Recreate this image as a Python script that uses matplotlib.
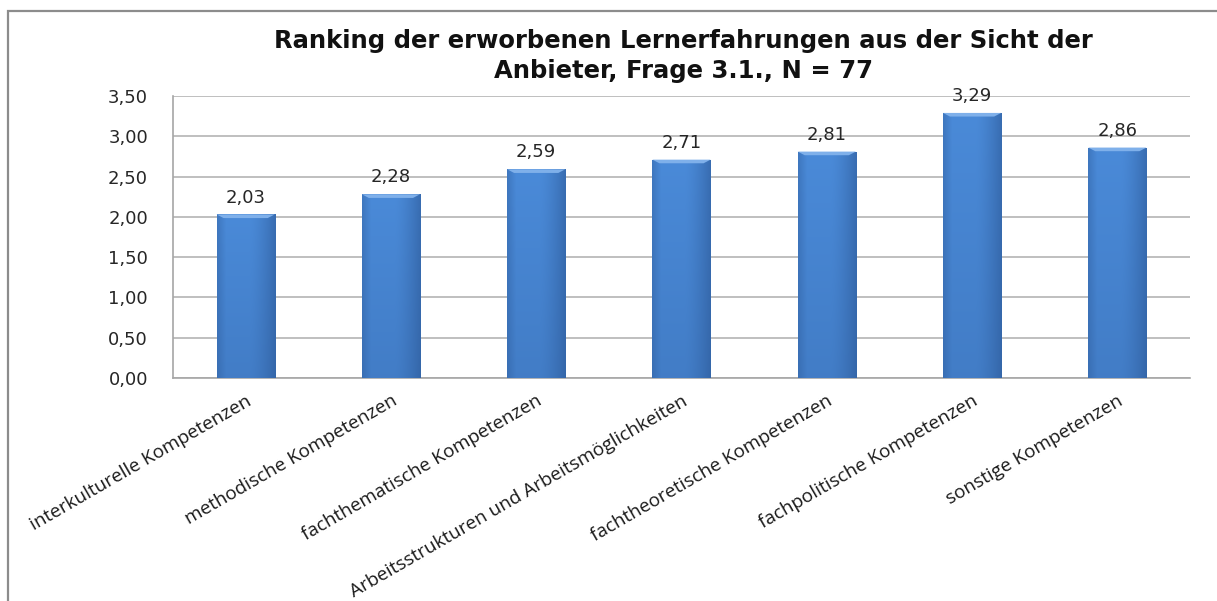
import numpy as np
import matplotlib
matplotlib.use("Agg")
import matplotlib.pyplot as plt
from matplotlib.patches import Rectangle

categories = [
    "interkulturelle Kompetenzen",
    "methodische Kompetenzen",
    "fachthematische Kompetenzen",
    "Arbeitsstrukturen und Arbeitsmöglichkeiten",
    "fachtheoretische Kompetenzen",
    "fachpolitische Kompetenzen",
    "sonstige Kompetenzen",
]
values = [2.03, 2.28, 2.59, 2.71, 2.81, 3.29, 2.86]
yticks = [0.0, 0.5, 1.0, 1.5, 2.0, 2.5, 3.0, 3.5]
title = "Ranking der erworbenen Lernerfahrungen aus der Sicht der\nAnbieter, Frage 3.1., N = 77"

W, H = 1217, 601
fig = plt.figure(figsize=(W / 100, H / 100), dpi=100)
fig.patch.set_facecolor("white")

# outer chart border
fig.patches.append(Rectangle((8 / W, -0.05), 1.2, 1 - 11 / H + 0.05, transform=fig.transFigure,
                             fill=False, edgecolor="#8c8c8c", linewidth=1.6))

ax = fig.add_axes([173 / W, 1 - 378 / H, (1190 - 173) / W, (378 - 96) / H])
x = np.arange(len(categories))
bars = ax.bar(x, values, width=0.40, color="#3c78c3", zorder=3)

# gradient fill for bars
gy = np.linspace(0, 1, 100)[:, None]
gx = np.linspace(0, 1, 60)[None, :]
light = np.array([0x4a, 0x8a, 0xd8]) / 255
dark = np.array([0x2a, 0x55, 0x92]) / 255
hshade = 1 - 0.55 * np.clip((gx - 0.55) / 0.45, 0, 1) ** 1.5 - 0.35 * np.clip((0.15 - gx) / 0.15, 0, 1)
vshade = 0.75 + 0.25 * gy  # top lighter (origin lower)
t = np.clip(hshade * vshade, 0, 1)
img = dark[None, None, :] + (light - dark)[None, None, :] * t[..., None]
for b in bars:
    x0, y0 = b.get_x(), b.get_y()
    w, h = b.get_width(), b.get_height()
    im = ax.imshow(img, extent=[x0, x0 + w, y0, y0 + h], origin="lower", aspect="auto", zorder=3.5)
    im.set_clip_path(b)
    # top bevel
    ax.fill([x0, x0 + w, x0 + w * 0.88, x0 + w * 0.12], [y0 + h, y0 + h, y0 + h - 0.045, y0 + h - 0.045],
            color="#7fb0ea", zorder=4, lw=0)
    ax.text(x0 + w / 2, y0 + h + 0.21, f"{h:.2f}".replace(".", ","), ha="center", va="center",
            fontsize=13, color="#262626", family="DejaVu Sans")

ax.set_xlim(-0.5, len(categories) - 0.5)
ax.set_ylim(0, 3.5)
ax.set_yticks(yticks)
ax.set_yticklabels([f"{v:.2f}".replace(".", ",") for v in yticks], fontsize=13, color="#262626",
                   family="DejaVu Sans")
ax.tick_params(axis="y", length=0, pad=18)
ax.yaxis.grid(True, color="#b4b4b4", linewidth=1.2, zorder=0)
ax.set_axisbelow(True)
for s in ["top", "right"]:
    ax.spines[s].set_visible(False)
for s in ["left", "bottom"]:
    ax.spines[s].set_color("#a6a6a6")
    ax.spines[s].set_linewidth(1.2)

ax.set_xticks(x)
ax.set_xticklabels(categories, rotation=30, ha="right", va="top", rotation_mode="anchor",
                   fontsize=13.6, family="Open Sans", color="#1a1a1a")
ax.tick_params(axis="x", length=0, pad=10)

fig.text(683 / W, 1 - 56 / H, title, ha="center", va="center", fontsize=17.5, fontweight="bold",
         family="DejaVu Sans", linespacing=1.32, color="#111111")

fig.savefig("out.png", dpi=100)
